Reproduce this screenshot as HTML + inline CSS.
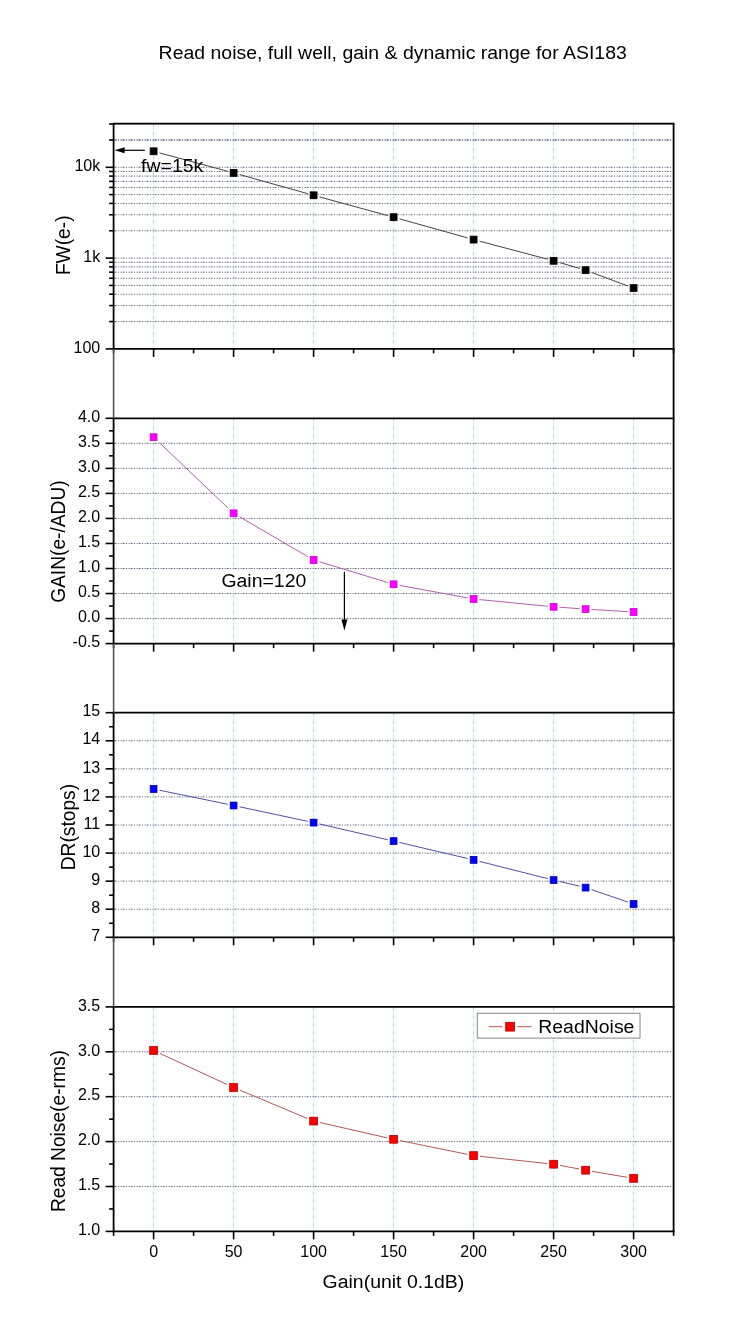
<!DOCTYPE html>
<html><head><meta charset="utf-8"><style>
html,body{margin:0;padding:0;background:#fff;width:750px;height:1334px;overflow:hidden;font-family:"Liberation Sans",sans-serif;}
svg{display:block;will-change:transform}
</style></head><body>
<svg width="750" height="1334" viewBox="0 0 750 1334">
<text transform="translate(158.60,58.70) scale(1.035,1)" font-size="18.8" font-family="Liberation Sans, sans-serif" text-anchor="start">Read noise, full well, gain &amp; dynamic range for ASI183</text>
<line x1="153.60" y1="124.7" x2="153.60" y2="347.9" stroke="#dcf3f6" stroke-width="1.2"/>
<line x1="153.60" y1="124.7" x2="153.60" y2="347.9" stroke="#92d2da" stroke-width="1" stroke-dasharray="1.5,6.5"/>
<line x1="233.60" y1="124.7" x2="233.60" y2="347.9" stroke="#dcf3f6" stroke-width="1.2"/>
<line x1="233.60" y1="124.7" x2="233.60" y2="347.9" stroke="#92d2da" stroke-width="1" stroke-dasharray="1.5,6.5"/>
<line x1="313.60" y1="124.7" x2="313.60" y2="347.9" stroke="#dcf3f6" stroke-width="1.2"/>
<line x1="313.60" y1="124.7" x2="313.60" y2="347.9" stroke="#92d2da" stroke-width="1" stroke-dasharray="1.5,6.5"/>
<line x1="393.60" y1="124.7" x2="393.60" y2="347.9" stroke="#dcf3f6" stroke-width="1.2"/>
<line x1="393.60" y1="124.7" x2="393.60" y2="347.9" stroke="#92d2da" stroke-width="1" stroke-dasharray="1.5,6.5"/>
<line x1="473.60" y1="124.7" x2="473.60" y2="347.9" stroke="#dcf3f6" stroke-width="1.2"/>
<line x1="473.60" y1="124.7" x2="473.60" y2="347.9" stroke="#92d2da" stroke-width="1" stroke-dasharray="1.5,6.5"/>
<line x1="553.60" y1="124.7" x2="553.60" y2="347.9" stroke="#dcf3f6" stroke-width="1.2"/>
<line x1="553.60" y1="124.7" x2="553.60" y2="347.9" stroke="#92d2da" stroke-width="1" stroke-dasharray="1.5,6.5"/>
<line x1="633.60" y1="124.7" x2="633.60" y2="347.9" stroke="#dcf3f6" stroke-width="1.2"/>
<line x1="633.60" y1="124.7" x2="633.60" y2="347.9" stroke="#92d2da" stroke-width="1" stroke-dasharray="1.5,6.5"/>
<line x1="153.60" y1="419.3" x2="153.60" y2="642.6" stroke="#dcf3f6" stroke-width="1.2"/>
<line x1="153.60" y1="419.3" x2="153.60" y2="642.6" stroke="#92d2da" stroke-width="1" stroke-dasharray="1.5,6.5"/>
<line x1="233.60" y1="419.3" x2="233.60" y2="642.6" stroke="#dcf3f6" stroke-width="1.2"/>
<line x1="233.60" y1="419.3" x2="233.60" y2="642.6" stroke="#92d2da" stroke-width="1" stroke-dasharray="1.5,6.5"/>
<line x1="313.60" y1="419.3" x2="313.60" y2="642.6" stroke="#dcf3f6" stroke-width="1.2"/>
<line x1="313.60" y1="419.3" x2="313.60" y2="642.6" stroke="#92d2da" stroke-width="1" stroke-dasharray="1.5,6.5"/>
<line x1="393.60" y1="419.3" x2="393.60" y2="642.6" stroke="#dcf3f6" stroke-width="1.2"/>
<line x1="393.60" y1="419.3" x2="393.60" y2="642.6" stroke="#92d2da" stroke-width="1" stroke-dasharray="1.5,6.5"/>
<line x1="473.60" y1="419.3" x2="473.60" y2="642.6" stroke="#dcf3f6" stroke-width="1.2"/>
<line x1="473.60" y1="419.3" x2="473.60" y2="642.6" stroke="#92d2da" stroke-width="1" stroke-dasharray="1.5,6.5"/>
<line x1="553.60" y1="419.3" x2="553.60" y2="642.6" stroke="#dcf3f6" stroke-width="1.2"/>
<line x1="553.60" y1="419.3" x2="553.60" y2="642.6" stroke="#92d2da" stroke-width="1" stroke-dasharray="1.5,6.5"/>
<line x1="633.60" y1="419.3" x2="633.60" y2="642.6" stroke="#dcf3f6" stroke-width="1.2"/>
<line x1="633.60" y1="419.3" x2="633.60" y2="642.6" stroke="#92d2da" stroke-width="1" stroke-dasharray="1.5,6.5"/>
<line x1="153.60" y1="713.7" x2="153.60" y2="936.3" stroke="#dcf3f6" stroke-width="1.2"/>
<line x1="153.60" y1="713.7" x2="153.60" y2="936.3" stroke="#92d2da" stroke-width="1" stroke-dasharray="1.5,6.5"/>
<line x1="233.60" y1="713.7" x2="233.60" y2="936.3" stroke="#dcf3f6" stroke-width="1.2"/>
<line x1="233.60" y1="713.7" x2="233.60" y2="936.3" stroke="#92d2da" stroke-width="1" stroke-dasharray="1.5,6.5"/>
<line x1="313.60" y1="713.7" x2="313.60" y2="936.3" stroke="#dcf3f6" stroke-width="1.2"/>
<line x1="313.60" y1="713.7" x2="313.60" y2="936.3" stroke="#92d2da" stroke-width="1" stroke-dasharray="1.5,6.5"/>
<line x1="393.60" y1="713.7" x2="393.60" y2="936.3" stroke="#dcf3f6" stroke-width="1.2"/>
<line x1="393.60" y1="713.7" x2="393.60" y2="936.3" stroke="#92d2da" stroke-width="1" stroke-dasharray="1.5,6.5"/>
<line x1="473.60" y1="713.7" x2="473.60" y2="936.3" stroke="#dcf3f6" stroke-width="1.2"/>
<line x1="473.60" y1="713.7" x2="473.60" y2="936.3" stroke="#92d2da" stroke-width="1" stroke-dasharray="1.5,6.5"/>
<line x1="553.60" y1="713.7" x2="553.60" y2="936.3" stroke="#dcf3f6" stroke-width="1.2"/>
<line x1="553.60" y1="713.7" x2="553.60" y2="936.3" stroke="#92d2da" stroke-width="1" stroke-dasharray="1.5,6.5"/>
<line x1="633.60" y1="713.7" x2="633.60" y2="936.3" stroke="#dcf3f6" stroke-width="1.2"/>
<line x1="633.60" y1="713.7" x2="633.60" y2="936.3" stroke="#92d2da" stroke-width="1" stroke-dasharray="1.5,6.5"/>
<line x1="153.60" y1="1007.9" x2="153.60" y2="1230.4" stroke="#dcf3f6" stroke-width="1.2"/>
<line x1="153.60" y1="1007.9" x2="153.60" y2="1230.4" stroke="#92d2da" stroke-width="1" stroke-dasharray="1.5,6.5"/>
<line x1="233.60" y1="1007.9" x2="233.60" y2="1230.4" stroke="#dcf3f6" stroke-width="1.2"/>
<line x1="233.60" y1="1007.9" x2="233.60" y2="1230.4" stroke="#92d2da" stroke-width="1" stroke-dasharray="1.5,6.5"/>
<line x1="313.60" y1="1007.9" x2="313.60" y2="1230.4" stroke="#dcf3f6" stroke-width="1.2"/>
<line x1="313.60" y1="1007.9" x2="313.60" y2="1230.4" stroke="#92d2da" stroke-width="1" stroke-dasharray="1.5,6.5"/>
<line x1="393.60" y1="1007.9" x2="393.60" y2="1230.4" stroke="#dcf3f6" stroke-width="1.2"/>
<line x1="393.60" y1="1007.9" x2="393.60" y2="1230.4" stroke="#92d2da" stroke-width="1" stroke-dasharray="1.5,6.5"/>
<line x1="473.60" y1="1007.9" x2="473.60" y2="1230.4" stroke="#dcf3f6" stroke-width="1.2"/>
<line x1="473.60" y1="1007.9" x2="473.60" y2="1230.4" stroke="#92d2da" stroke-width="1" stroke-dasharray="1.5,6.5"/>
<line x1="553.60" y1="1007.9" x2="553.60" y2="1230.4" stroke="#dcf3f6" stroke-width="1.2"/>
<line x1="553.60" y1="1007.9" x2="553.60" y2="1230.4" stroke="#92d2da" stroke-width="1" stroke-dasharray="1.5,6.5"/>
<line x1="633.60" y1="1007.9" x2="633.60" y2="1230.4" stroke="#dcf3f6" stroke-width="1.2"/>
<line x1="633.60" y1="1007.9" x2="633.60" y2="1230.4" stroke="#92d2da" stroke-width="1" stroke-dasharray="1.5,6.5"/>
<line x1="114.6" y1="321.57" x2="672.6" y2="321.57" stroke="#62627e" stroke-width="1" stroke-dasharray="2,1.5,1,1.5,1,1"/>
<line x1="114.6" y1="305.58" x2="672.6" y2="305.58" stroke="#62627e" stroke-width="1" stroke-dasharray="2,1.5,1,1.5,1,1"/>
<line x1="114.6" y1="294.23" x2="672.6" y2="294.23" stroke="#62627e" stroke-width="1" stroke-dasharray="2,1.5,1,1.5,1,1"/>
<line x1="114.6" y1="285.43" x2="672.6" y2="285.43" stroke="#62627e" stroke-width="1" stroke-dasharray="2,1.5,1,1.5,1,1"/>
<line x1="114.6" y1="278.24" x2="672.6" y2="278.24" stroke="#62627e" stroke-width="1" stroke-dasharray="2,1.5,1,1.5,1,1"/>
<line x1="114.6" y1="272.17" x2="672.6" y2="272.17" stroke="#62627e" stroke-width="1" stroke-dasharray="2,1.5,1,1.5,1,1"/>
<line x1="114.6" y1="266.90" x2="672.6" y2="266.90" stroke="#62627e" stroke-width="1" stroke-dasharray="2,1.5,1,1.5,1,1"/>
<line x1="114.6" y1="262.25" x2="672.6" y2="262.25" stroke="#62627e" stroke-width="1" stroke-dasharray="2,1.5,1,1.5,1,1"/>
<line x1="114.6" y1="258.10" x2="672.6" y2="258.10" stroke="#62627e" stroke-width="1" stroke-dasharray="2,1.5,1,1.5,1,1"/>
<line x1="114.6" y1="230.77" x2="672.6" y2="230.77" stroke="#62627e" stroke-width="1" stroke-dasharray="2,1.5,1,1.5,1,1"/>
<line x1="114.6" y1="214.78" x2="672.6" y2="214.78" stroke="#62627e" stroke-width="1" stroke-dasharray="2,1.5,1,1.5,1,1"/>
<line x1="114.6" y1="203.43" x2="672.6" y2="203.43" stroke="#62627e" stroke-width="1" stroke-dasharray="2,1.5,1,1.5,1,1"/>
<line x1="114.6" y1="194.63" x2="672.6" y2="194.63" stroke="#62627e" stroke-width="1" stroke-dasharray="2,1.5,1,1.5,1,1"/>
<line x1="114.6" y1="187.44" x2="672.6" y2="187.44" stroke="#62627e" stroke-width="1" stroke-dasharray="2,1.5,1,1.5,1,1"/>
<line x1="114.6" y1="181.37" x2="672.6" y2="181.37" stroke="#62627e" stroke-width="1" stroke-dasharray="2,1.5,1,1.5,1,1"/>
<line x1="114.6" y1="176.10" x2="672.6" y2="176.10" stroke="#62627e" stroke-width="1" stroke-dasharray="2,1.5,1,1.5,1,1"/>
<line x1="114.6" y1="171.45" x2="672.6" y2="171.45" stroke="#62627e" stroke-width="1" stroke-dasharray="2,1.5,1,1.5,1,1"/>
<line x1="114.6" y1="167.30" x2="672.6" y2="167.30" stroke="#62627e" stroke-width="1" stroke-dasharray="2,1.5,1,1.5,1,1"/>
<line x1="114.6" y1="139.97" x2="672.6" y2="139.97" stroke="#62627e" stroke-width="1" stroke-dasharray="2,1.5,1,1.5,1,1"/>
<line x1="114.6" y1="123.98" x2="672.6" y2="123.98" stroke="#62627e" stroke-width="1" stroke-dasharray="2,1.5,1,1.5,1,1"/>
<line x1="114.6" y1="139.97" x2="672.6" y2="139.97" stroke="#62627e" stroke-width="1" stroke-dasharray="2,1.5,1,1.5,1,1"/>
<line x1="114.6" y1="618.57" x2="672.6" y2="618.57" stroke="#62627e" stroke-width="1" stroke-dasharray="2,1.5,1,1.5,1,1"/>
<line x1="114.6" y1="593.53" x2="672.6" y2="593.53" stroke="#62627e" stroke-width="1" stroke-dasharray="2,1.5,1,1.5,1,1"/>
<line x1="114.6" y1="568.50" x2="672.6" y2="568.50" stroke="#62627e" stroke-width="1" stroke-dasharray="2,1.5,1,1.5,1,1"/>
<line x1="114.6" y1="543.47" x2="672.6" y2="543.47" stroke="#62627e" stroke-width="1" stroke-dasharray="2,1.5,1,1.5,1,1"/>
<line x1="114.6" y1="518.43" x2="672.6" y2="518.43" stroke="#62627e" stroke-width="1" stroke-dasharray="2,1.5,1,1.5,1,1"/>
<line x1="114.6" y1="493.40" x2="672.6" y2="493.40" stroke="#62627e" stroke-width="1" stroke-dasharray="2,1.5,1,1.5,1,1"/>
<line x1="114.6" y1="468.37" x2="672.6" y2="468.37" stroke="#62627e" stroke-width="1" stroke-dasharray="2,1.5,1,1.5,1,1"/>
<line x1="114.6" y1="443.33" x2="672.6" y2="443.33" stroke="#62627e" stroke-width="1" stroke-dasharray="2,1.5,1,1.5,1,1"/>
<line x1="114.6" y1="909.22" x2="672.6" y2="909.22" stroke="#62627e" stroke-width="1" stroke-dasharray="2,1.5,1,1.5,1,1"/>
<line x1="114.6" y1="881.15" x2="672.6" y2="881.15" stroke="#62627e" stroke-width="1" stroke-dasharray="2,1.5,1,1.5,1,1"/>
<line x1="114.6" y1="853.08" x2="672.6" y2="853.08" stroke="#62627e" stroke-width="1" stroke-dasharray="2,1.5,1,1.5,1,1"/>
<line x1="114.6" y1="825.00" x2="672.6" y2="825.00" stroke="#62627e" stroke-width="1" stroke-dasharray="2,1.5,1,1.5,1,1"/>
<line x1="114.6" y1="796.92" x2="672.6" y2="796.92" stroke="#62627e" stroke-width="1" stroke-dasharray="2,1.5,1,1.5,1,1"/>
<line x1="114.6" y1="768.85" x2="672.6" y2="768.85" stroke="#62627e" stroke-width="1" stroke-dasharray="2,1.5,1,1.5,1,1"/>
<line x1="114.6" y1="740.78" x2="672.6" y2="740.78" stroke="#62627e" stroke-width="1" stroke-dasharray="2,1.5,1,1.5,1,1"/>
<line x1="114.6" y1="1186.50" x2="672.6" y2="1186.50" stroke="#62627e" stroke-width="1" stroke-dasharray="2,1.5,1,1.5,1,1"/>
<line x1="114.6" y1="1141.60" x2="672.6" y2="1141.60" stroke="#62627e" stroke-width="1" stroke-dasharray="2,1.5,1,1.5,1,1"/>
<line x1="114.6" y1="1096.70" x2="672.6" y2="1096.70" stroke="#62627e" stroke-width="1" stroke-dasharray="2,1.5,1,1.5,1,1"/>
<line x1="114.6" y1="1051.80" x2="672.6" y2="1051.80" stroke="#62627e" stroke-width="1" stroke-dasharray="2,1.5,1,1.5,1,1"/>
<line x1="105.60" y1="348.90" x2="113.6" y2="348.90" stroke="#000" stroke-width="1.6"/>
<line x1="105.60" y1="258.10" x2="113.6" y2="258.10" stroke="#000" stroke-width="1.6"/>
<line x1="105.60" y1="167.30" x2="113.6" y2="167.30" stroke="#000" stroke-width="1.6"/>
<line x1="109.10" y1="321.57" x2="113.6" y2="321.57" stroke="#000" stroke-width="1.6"/>
<line x1="109.10" y1="305.58" x2="113.6" y2="305.58" stroke="#000" stroke-width="1.6"/>
<line x1="109.10" y1="294.23" x2="113.6" y2="294.23" stroke="#000" stroke-width="1.6"/>
<line x1="109.10" y1="285.43" x2="113.6" y2="285.43" stroke="#000" stroke-width="1.6"/>
<line x1="109.10" y1="278.24" x2="113.6" y2="278.24" stroke="#000" stroke-width="1.6"/>
<line x1="109.10" y1="272.17" x2="113.6" y2="272.17" stroke="#000" stroke-width="1.6"/>
<line x1="109.10" y1="266.90" x2="113.6" y2="266.90" stroke="#000" stroke-width="1.6"/>
<line x1="109.10" y1="262.25" x2="113.6" y2="262.25" stroke="#000" stroke-width="1.6"/>
<line x1="109.10" y1="230.77" x2="113.6" y2="230.77" stroke="#000" stroke-width="1.6"/>
<line x1="109.10" y1="214.78" x2="113.6" y2="214.78" stroke="#000" stroke-width="1.6"/>
<line x1="109.10" y1="203.43" x2="113.6" y2="203.43" stroke="#000" stroke-width="1.6"/>
<line x1="109.10" y1="194.63" x2="113.6" y2="194.63" stroke="#000" stroke-width="1.6"/>
<line x1="109.10" y1="187.44" x2="113.6" y2="187.44" stroke="#000" stroke-width="1.6"/>
<line x1="109.10" y1="181.37" x2="113.6" y2="181.37" stroke="#000" stroke-width="1.6"/>
<line x1="109.10" y1="176.10" x2="113.6" y2="176.10" stroke="#000" stroke-width="1.6"/>
<line x1="109.10" y1="171.45" x2="113.6" y2="171.45" stroke="#000" stroke-width="1.6"/>
<line x1="109.10" y1="139.97" x2="113.6" y2="139.97" stroke="#000" stroke-width="1.6"/>
<line x1="109.10" y1="123.98" x2="113.6" y2="123.98" stroke="#000" stroke-width="1.6"/>
<line x1="105.60" y1="643.60" x2="113.6" y2="643.60" stroke="#000" stroke-width="1.6"/>
<line x1="109.10" y1="631.08" x2="113.6" y2="631.08" stroke="#000" stroke-width="1.6"/>
<line x1="105.60" y1="618.57" x2="113.6" y2="618.57" stroke="#000" stroke-width="1.6"/>
<line x1="109.10" y1="606.05" x2="113.6" y2="606.05" stroke="#000" stroke-width="1.6"/>
<line x1="105.60" y1="593.53" x2="113.6" y2="593.53" stroke="#000" stroke-width="1.6"/>
<line x1="109.10" y1="581.02" x2="113.6" y2="581.02" stroke="#000" stroke-width="1.6"/>
<line x1="105.60" y1="568.50" x2="113.6" y2="568.50" stroke="#000" stroke-width="1.6"/>
<line x1="109.10" y1="555.98" x2="113.6" y2="555.98" stroke="#000" stroke-width="1.6"/>
<line x1="105.60" y1="543.47" x2="113.6" y2="543.47" stroke="#000" stroke-width="1.6"/>
<line x1="109.10" y1="530.95" x2="113.6" y2="530.95" stroke="#000" stroke-width="1.6"/>
<line x1="105.60" y1="518.43" x2="113.6" y2="518.43" stroke="#000" stroke-width="1.6"/>
<line x1="109.10" y1="505.92" x2="113.6" y2="505.92" stroke="#000" stroke-width="1.6"/>
<line x1="105.60" y1="493.40" x2="113.6" y2="493.40" stroke="#000" stroke-width="1.6"/>
<line x1="109.10" y1="480.88" x2="113.6" y2="480.88" stroke="#000" stroke-width="1.6"/>
<line x1="105.60" y1="468.37" x2="113.6" y2="468.37" stroke="#000" stroke-width="1.6"/>
<line x1="109.10" y1="455.85" x2="113.6" y2="455.85" stroke="#000" stroke-width="1.6"/>
<line x1="105.60" y1="443.33" x2="113.6" y2="443.33" stroke="#000" stroke-width="1.6"/>
<line x1="109.10" y1="430.82" x2="113.6" y2="430.82" stroke="#000" stroke-width="1.6"/>
<line x1="105.60" y1="418.30" x2="113.6" y2="418.30" stroke="#000" stroke-width="1.6"/>
<line x1="105.60" y1="937.30" x2="113.6" y2="937.30" stroke="#000" stroke-width="1.6"/>
<line x1="109.10" y1="923.26" x2="113.6" y2="923.26" stroke="#000" stroke-width="1.6"/>
<line x1="105.60" y1="909.22" x2="113.6" y2="909.22" stroke="#000" stroke-width="1.6"/>
<line x1="109.10" y1="895.19" x2="113.6" y2="895.19" stroke="#000" stroke-width="1.6"/>
<line x1="105.60" y1="881.15" x2="113.6" y2="881.15" stroke="#000" stroke-width="1.6"/>
<line x1="109.10" y1="867.11" x2="113.6" y2="867.11" stroke="#000" stroke-width="1.6"/>
<line x1="105.60" y1="853.08" x2="113.6" y2="853.08" stroke="#000" stroke-width="1.6"/>
<line x1="109.10" y1="839.04" x2="113.6" y2="839.04" stroke="#000" stroke-width="1.6"/>
<line x1="105.60" y1="825.00" x2="113.6" y2="825.00" stroke="#000" stroke-width="1.6"/>
<line x1="109.10" y1="810.96" x2="113.6" y2="810.96" stroke="#000" stroke-width="1.6"/>
<line x1="105.60" y1="796.92" x2="113.6" y2="796.92" stroke="#000" stroke-width="1.6"/>
<line x1="109.10" y1="782.89" x2="113.6" y2="782.89" stroke="#000" stroke-width="1.6"/>
<line x1="105.60" y1="768.85" x2="113.6" y2="768.85" stroke="#000" stroke-width="1.6"/>
<line x1="109.10" y1="754.81" x2="113.6" y2="754.81" stroke="#000" stroke-width="1.6"/>
<line x1="105.60" y1="740.78" x2="113.6" y2="740.78" stroke="#000" stroke-width="1.6"/>
<line x1="109.10" y1="726.74" x2="113.6" y2="726.74" stroke="#000" stroke-width="1.6"/>
<line x1="105.60" y1="712.70" x2="113.6" y2="712.70" stroke="#000" stroke-width="1.6"/>
<line x1="105.60" y1="1231.40" x2="113.6" y2="1231.40" stroke="#000" stroke-width="1.6"/>
<line x1="109.10" y1="1208.95" x2="113.6" y2="1208.95" stroke="#000" stroke-width="1.6"/>
<line x1="105.60" y1="1186.50" x2="113.6" y2="1186.50" stroke="#000" stroke-width="1.6"/>
<line x1="109.10" y1="1164.05" x2="113.6" y2="1164.05" stroke="#000" stroke-width="1.6"/>
<line x1="105.60" y1="1141.60" x2="113.6" y2="1141.60" stroke="#000" stroke-width="1.6"/>
<line x1="109.10" y1="1119.15" x2="113.6" y2="1119.15" stroke="#000" stroke-width="1.6"/>
<line x1="105.60" y1="1096.70" x2="113.6" y2="1096.70" stroke="#000" stroke-width="1.6"/>
<line x1="109.10" y1="1074.25" x2="113.6" y2="1074.25" stroke="#000" stroke-width="1.6"/>
<line x1="105.60" y1="1051.80" x2="113.6" y2="1051.80" stroke="#000" stroke-width="1.6"/>
<line x1="109.10" y1="1029.35" x2="113.6" y2="1029.35" stroke="#000" stroke-width="1.6"/>
<line x1="105.60" y1="1006.90" x2="113.6" y2="1006.90" stroke="#000" stroke-width="1.6"/>
<line x1="113.60" y1="348.9" x2="113.60" y2="353.40" stroke="#000" stroke-width="1.6"/>
<line x1="153.60" y1="348.9" x2="153.60" y2="356.90" stroke="#000" stroke-width="1.6"/>
<line x1="193.60" y1="348.9" x2="193.60" y2="353.40" stroke="#000" stroke-width="1.6"/>
<line x1="233.60" y1="348.9" x2="233.60" y2="356.90" stroke="#000" stroke-width="1.6"/>
<line x1="273.60" y1="348.9" x2="273.60" y2="353.40" stroke="#000" stroke-width="1.6"/>
<line x1="313.60" y1="348.9" x2="313.60" y2="356.90" stroke="#000" stroke-width="1.6"/>
<line x1="353.60" y1="348.9" x2="353.60" y2="353.40" stroke="#000" stroke-width="1.6"/>
<line x1="393.60" y1="348.9" x2="393.60" y2="356.90" stroke="#000" stroke-width="1.6"/>
<line x1="433.60" y1="348.9" x2="433.60" y2="353.40" stroke="#000" stroke-width="1.6"/>
<line x1="473.60" y1="348.9" x2="473.60" y2="356.90" stroke="#000" stroke-width="1.6"/>
<line x1="513.60" y1="348.9" x2="513.60" y2="353.40" stroke="#000" stroke-width="1.6"/>
<line x1="553.60" y1="348.9" x2="553.60" y2="356.90" stroke="#000" stroke-width="1.6"/>
<line x1="593.60" y1="348.9" x2="593.60" y2="353.40" stroke="#000" stroke-width="1.6"/>
<line x1="633.60" y1="348.9" x2="633.60" y2="356.90" stroke="#000" stroke-width="1.6"/>
<line x1="673.60" y1="348.9" x2="673.60" y2="353.40" stroke="#000" stroke-width="1.6"/>
<line x1="113.60" y1="643.6" x2="113.60" y2="648.10" stroke="#000" stroke-width="1.6"/>
<line x1="153.60" y1="643.6" x2="153.60" y2="651.60" stroke="#000" stroke-width="1.6"/>
<line x1="193.60" y1="643.6" x2="193.60" y2="648.10" stroke="#000" stroke-width="1.6"/>
<line x1="233.60" y1="643.6" x2="233.60" y2="651.60" stroke="#000" stroke-width="1.6"/>
<line x1="273.60" y1="643.6" x2="273.60" y2="648.10" stroke="#000" stroke-width="1.6"/>
<line x1="313.60" y1="643.6" x2="313.60" y2="651.60" stroke="#000" stroke-width="1.6"/>
<line x1="353.60" y1="643.6" x2="353.60" y2="648.10" stroke="#000" stroke-width="1.6"/>
<line x1="393.60" y1="643.6" x2="393.60" y2="651.60" stroke="#000" stroke-width="1.6"/>
<line x1="433.60" y1="643.6" x2="433.60" y2="648.10" stroke="#000" stroke-width="1.6"/>
<line x1="473.60" y1="643.6" x2="473.60" y2="651.60" stroke="#000" stroke-width="1.6"/>
<line x1="513.60" y1="643.6" x2="513.60" y2="648.10" stroke="#000" stroke-width="1.6"/>
<line x1="553.60" y1="643.6" x2="553.60" y2="651.60" stroke="#000" stroke-width="1.6"/>
<line x1="593.60" y1="643.6" x2="593.60" y2="648.10" stroke="#000" stroke-width="1.6"/>
<line x1="633.60" y1="643.6" x2="633.60" y2="651.60" stroke="#000" stroke-width="1.6"/>
<line x1="673.60" y1="643.6" x2="673.60" y2="648.10" stroke="#000" stroke-width="1.6"/>
<line x1="113.60" y1="937.3" x2="113.60" y2="941.80" stroke="#000" stroke-width="1.6"/>
<line x1="153.60" y1="937.3" x2="153.60" y2="945.30" stroke="#000" stroke-width="1.6"/>
<line x1="193.60" y1="937.3" x2="193.60" y2="941.80" stroke="#000" stroke-width="1.6"/>
<line x1="233.60" y1="937.3" x2="233.60" y2="945.30" stroke="#000" stroke-width="1.6"/>
<line x1="273.60" y1="937.3" x2="273.60" y2="941.80" stroke="#000" stroke-width="1.6"/>
<line x1="313.60" y1="937.3" x2="313.60" y2="945.30" stroke="#000" stroke-width="1.6"/>
<line x1="353.60" y1="937.3" x2="353.60" y2="941.80" stroke="#000" stroke-width="1.6"/>
<line x1="393.60" y1="937.3" x2="393.60" y2="945.30" stroke="#000" stroke-width="1.6"/>
<line x1="433.60" y1="937.3" x2="433.60" y2="941.80" stroke="#000" stroke-width="1.6"/>
<line x1="473.60" y1="937.3" x2="473.60" y2="945.30" stroke="#000" stroke-width="1.6"/>
<line x1="513.60" y1="937.3" x2="513.60" y2="941.80" stroke="#000" stroke-width="1.6"/>
<line x1="553.60" y1="937.3" x2="553.60" y2="945.30" stroke="#000" stroke-width="1.6"/>
<line x1="593.60" y1="937.3" x2="593.60" y2="941.80" stroke="#000" stroke-width="1.6"/>
<line x1="633.60" y1="937.3" x2="633.60" y2="945.30" stroke="#000" stroke-width="1.6"/>
<line x1="673.60" y1="937.3" x2="673.60" y2="941.80" stroke="#000" stroke-width="1.6"/>
<line x1="113.60" y1="1231.4" x2="113.60" y2="1235.90" stroke="#000" stroke-width="1.6"/>
<line x1="153.60" y1="1231.4" x2="153.60" y2="1239.40" stroke="#000" stroke-width="1.6"/>
<line x1="193.60" y1="1231.4" x2="193.60" y2="1235.90" stroke="#000" stroke-width="1.6"/>
<line x1="233.60" y1="1231.4" x2="233.60" y2="1239.40" stroke="#000" stroke-width="1.6"/>
<line x1="273.60" y1="1231.4" x2="273.60" y2="1235.90" stroke="#000" stroke-width="1.6"/>
<line x1="313.60" y1="1231.4" x2="313.60" y2="1239.40" stroke="#000" stroke-width="1.6"/>
<line x1="353.60" y1="1231.4" x2="353.60" y2="1235.90" stroke="#000" stroke-width="1.6"/>
<line x1="393.60" y1="1231.4" x2="393.60" y2="1239.40" stroke="#000" stroke-width="1.6"/>
<line x1="433.60" y1="1231.4" x2="433.60" y2="1235.90" stroke="#000" stroke-width="1.6"/>
<line x1="473.60" y1="1231.4" x2="473.60" y2="1239.40" stroke="#000" stroke-width="1.6"/>
<line x1="513.60" y1="1231.4" x2="513.60" y2="1235.90" stroke="#000" stroke-width="1.6"/>
<line x1="553.60" y1="1231.4" x2="553.60" y2="1239.40" stroke="#000" stroke-width="1.6"/>
<line x1="593.60" y1="1231.4" x2="593.60" y2="1235.90" stroke="#000" stroke-width="1.6"/>
<line x1="633.60" y1="1231.4" x2="633.60" y2="1239.40" stroke="#000" stroke-width="1.6"/>
<line x1="673.60" y1="1231.4" x2="673.60" y2="1235.90" stroke="#000" stroke-width="1.6"/>
<text transform="translate(100.20,352.60) scale(1.0,1)" font-size="16" font-family="Liberation Sans, sans-serif" text-anchor="end">100</text>
<text transform="translate(100.20,261.80) scale(1.0,1)" font-size="16" font-family="Liberation Sans, sans-serif" text-anchor="end">1k</text>
<text transform="translate(100.20,171.00) scale(1.0,1)" font-size="16" font-family="Liberation Sans, sans-serif" text-anchor="end">10k</text>
<text transform="translate(100.20,647.30) scale(1.0,1)" font-size="16" font-family="Liberation Sans, sans-serif" text-anchor="end">-0.5</text>
<text transform="translate(100.20,622.27) scale(1.0,1)" font-size="16" font-family="Liberation Sans, sans-serif" text-anchor="end">0.0</text>
<text transform="translate(100.20,597.23) scale(1.0,1)" font-size="16" font-family="Liberation Sans, sans-serif" text-anchor="end">0.5</text>
<text transform="translate(100.20,572.20) scale(1.0,1)" font-size="16" font-family="Liberation Sans, sans-serif" text-anchor="end">1.0</text>
<text transform="translate(100.20,547.17) scale(1.0,1)" font-size="16" font-family="Liberation Sans, sans-serif" text-anchor="end">1.5</text>
<text transform="translate(100.20,522.13) scale(1.0,1)" font-size="16" font-family="Liberation Sans, sans-serif" text-anchor="end">2.0</text>
<text transform="translate(100.20,497.10) scale(1.0,1)" font-size="16" font-family="Liberation Sans, sans-serif" text-anchor="end">2.5</text>
<text transform="translate(100.20,472.07) scale(1.0,1)" font-size="16" font-family="Liberation Sans, sans-serif" text-anchor="end">3.0</text>
<text transform="translate(100.20,447.03) scale(1.0,1)" font-size="16" font-family="Liberation Sans, sans-serif" text-anchor="end">3.5</text>
<text transform="translate(100.20,422.00) scale(1.0,1)" font-size="16" font-family="Liberation Sans, sans-serif" text-anchor="end">4.0</text>
<text transform="translate(100.20,941.00) scale(1.0,1)" font-size="16" font-family="Liberation Sans, sans-serif" text-anchor="end">7</text>
<text transform="translate(100.20,912.92) scale(1.0,1)" font-size="16" font-family="Liberation Sans, sans-serif" text-anchor="end">8</text>
<text transform="translate(100.20,884.85) scale(1.0,1)" font-size="16" font-family="Liberation Sans, sans-serif" text-anchor="end">9</text>
<text transform="translate(100.20,856.78) scale(1.0,1)" font-size="16" font-family="Liberation Sans, sans-serif" text-anchor="end">10</text>
<text transform="translate(100.20,828.70) scale(1.0,1)" font-size="16" font-family="Liberation Sans, sans-serif" text-anchor="end">11</text>
<text transform="translate(100.20,800.62) scale(1.0,1)" font-size="16" font-family="Liberation Sans, sans-serif" text-anchor="end">12</text>
<text transform="translate(100.20,772.55) scale(1.0,1)" font-size="16" font-family="Liberation Sans, sans-serif" text-anchor="end">13</text>
<text transform="translate(100.20,744.48) scale(1.0,1)" font-size="16" font-family="Liberation Sans, sans-serif" text-anchor="end">14</text>
<text transform="translate(100.20,716.40) scale(1.0,1)" font-size="16" font-family="Liberation Sans, sans-serif" text-anchor="end">15</text>
<text transform="translate(100.20,1235.10) scale(1.0,1)" font-size="16" font-family="Liberation Sans, sans-serif" text-anchor="end">1.0</text>
<text transform="translate(100.20,1190.20) scale(1.0,1)" font-size="16" font-family="Liberation Sans, sans-serif" text-anchor="end">1.5</text>
<text transform="translate(100.20,1145.30) scale(1.0,1)" font-size="16" font-family="Liberation Sans, sans-serif" text-anchor="end">2.0</text>
<text transform="translate(100.20,1100.40) scale(1.0,1)" font-size="16" font-family="Liberation Sans, sans-serif" text-anchor="end">2.5</text>
<text transform="translate(100.20,1055.50) scale(1.0,1)" font-size="16" font-family="Liberation Sans, sans-serif" text-anchor="end">3.0</text>
<text transform="translate(100.20,1010.60) scale(1.0,1)" font-size="16" font-family="Liberation Sans, sans-serif" text-anchor="end">3.5</text>
<text transform="translate(153.60,1256.70) scale(1.0,1)" font-size="16" font-family="Liberation Sans, sans-serif" text-anchor="middle">0</text>
<text transform="translate(233.60,1256.70) scale(1.0,1)" font-size="16" font-family="Liberation Sans, sans-serif" text-anchor="middle">50</text>
<text transform="translate(313.60,1256.70) scale(1.0,1)" font-size="16" font-family="Liberation Sans, sans-serif" text-anchor="middle">100</text>
<text transform="translate(393.60,1256.70) scale(1.0,1)" font-size="16" font-family="Liberation Sans, sans-serif" text-anchor="middle">150</text>
<text transform="translate(473.60,1256.70) scale(1.0,1)" font-size="16" font-family="Liberation Sans, sans-serif" text-anchor="middle">200</text>
<text transform="translate(553.60,1256.70) scale(1.0,1)" font-size="16" font-family="Liberation Sans, sans-serif" text-anchor="middle">250</text>
<text transform="translate(633.60,1256.70) scale(1.0,1)" font-size="16" font-family="Liberation Sans, sans-serif" text-anchor="middle">300</text>
<text transform="translate(322.60,1288.10) scale(1.035,1)" font-size="18.8" font-family="Liberation Sans, sans-serif" text-anchor="start">Gain(unit 0.1dB)</text>
<text transform="translate(70,245.3) rotate(-90) scale(1,1.035)" x="0" y="0" font-size="19.2" font-family="Liberation Sans, sans-serif" text-anchor="middle">FW(e-)</text>
<text transform="translate(64.7,541.6) rotate(-90) scale(1,1.035)" x="0" y="0" font-size="19.2" font-family="Liberation Sans, sans-serif" text-anchor="middle">GAIN(e-/ADU)</text>
<text transform="translate(75.1,827.1) rotate(-90) scale(1,1.035)" x="0" y="0" font-size="19.2" font-family="Liberation Sans, sans-serif" text-anchor="middle">DR(stops)</text>
<text transform="translate(64.7,1131.1) rotate(-90) scale(1,1.035)" x="0" y="0" font-size="19.2" font-family="Liberation Sans, sans-serif" text-anchor="middle">Read Noise(e-rms)</text>
<g stroke="#000" stroke-width="1.8" fill="none">
<line x1="112.69999999999999" y1="123.7" x2="674.5" y2="123.7"/>
<line x1="112.69999999999999" y1="348.9" x2="674.5" y2="348.9"/>
<line x1="112.69999999999999" y1="418.3" x2="674.5" y2="418.3"/>
<line x1="112.69999999999999" y1="643.6" x2="674.5" y2="643.6"/>
<line x1="112.69999999999999" y1="712.7" x2="674.5" y2="712.7"/>
<line x1="112.69999999999999" y1="937.3" x2="674.5" y2="937.3"/>
<line x1="112.69999999999999" y1="1006.9" x2="674.5" y2="1006.9"/>
<line x1="112.69999999999999" y1="1231.4" x2="674.5" y2="1231.4"/>
<line x1="673.6" y1="123.7" x2="673.6" y2="1231.4"/>
<line x1="113.6" y1="123.7" x2="113.6" y2="348.9"/>
<line x1="113.6" y1="418.3" x2="113.6" y2="643.6"/>
<line x1="113.6" y1="712.7" x2="113.6" y2="937.3"/>
<line x1="113.6" y1="1006.9" x2="113.6" y2="1231.4"/>
</g>
<line x1="113.6" y1="348.9" x2="113.6" y2="418.3" stroke="#555" stroke-width="1.6"/>
<line x1="113.6" y1="643.6" x2="113.6" y2="712.7" stroke="#555" stroke-width="1.6"/>
<line x1="113.6" y1="937.3" x2="113.6" y2="1006.9" stroke="#555" stroke-width="1.6"/>
<mask id="m0" maskUnits="userSpaceOnUse" x="0" y="0" width="750" height="1334"><rect x="0" y="0" width="750" height="1334" fill="#fff"/><rect x="147.65" y="145.35" width="11.90" height="11.90" fill="#000"/><rect x="227.65" y="166.95" width="11.90" height="11.90" fill="#000"/><rect x="307.65" y="189.35" width="11.90" height="11.90" fill="#000"/><rect x="387.65" y="211.25" width="11.90" height="11.90" fill="#000"/><rect x="467.65" y="233.65" width="11.90" height="11.90" fill="#000"/><rect x="547.65" y="254.85" width="11.90" height="11.90" fill="#000"/><rect x="579.65" y="264.25" width="11.90" height="11.90" fill="#000"/><rect x="627.65" y="282.15" width="11.90" height="11.90" fill="#000"/></mask>
<path d="M153.60,151.30 L233.60,172.90 L313.60,195.30 L393.60,217.20 L473.60,239.60 L553.60,260.80 L585.60,270.20 L633.60,288.10" fill="none" stroke="#444" stroke-width="1" mask="url(#m0)"/>
<rect x="150.15" y="147.85" width="6.9" height="6.9" fill="#000" stroke="#000" stroke-width="0.8"/>
<rect x="230.15" y="169.45" width="6.9" height="6.9" fill="#000" stroke="#000" stroke-width="0.8"/>
<rect x="310.15" y="191.85" width="6.9" height="6.9" fill="#000" stroke="#000" stroke-width="0.8"/>
<rect x="390.15" y="213.75" width="6.9" height="6.9" fill="#000" stroke="#000" stroke-width="0.8"/>
<rect x="470.15" y="236.15" width="6.9" height="6.9" fill="#000" stroke="#000" stroke-width="0.8"/>
<rect x="550.15" y="257.35" width="6.9" height="6.9" fill="#000" stroke="#000" stroke-width="0.8"/>
<rect x="582.15" y="266.75" width="6.9" height="6.9" fill="#000" stroke="#000" stroke-width="0.8"/>
<rect x="630.15" y="284.65" width="6.9" height="6.9" fill="#000" stroke="#000" stroke-width="0.8"/>
<mask id="m1" maskUnits="userSpaceOnUse" x="0" y="0" width="750" height="1334"><rect x="0" y="0" width="750" height="1334" fill="#fff"/><rect x="147.70" y="431.30" width="11.80" height="11.80" fill="#000"/><rect x="227.70" y="507.40" width="11.80" height="11.80" fill="#000"/><rect x="307.70" y="554.10" width="11.80" height="11.80" fill="#000"/><rect x="387.70" y="578.40" width="11.80" height="11.80" fill="#000"/><rect x="467.70" y="593.10" width="11.80" height="11.80" fill="#000"/><rect x="547.70" y="600.90" width="11.80" height="11.80" fill="#000"/><rect x="579.70" y="603.20" width="11.80" height="11.80" fill="#000"/><rect x="627.70" y="606.10" width="11.80" height="11.80" fill="#000"/></mask>
<path d="M153.60,437.20 L233.60,513.30 L313.60,560.00 L393.60,584.30 L473.60,599.00 L553.60,606.80 L585.60,609.10 L633.60,612.00" fill="none" stroke="#b060b0" stroke-width="1" mask="url(#m1)"/>
<rect x="150.20" y="433.80" width="6.8" height="6.8" fill="#ff00ff" stroke="#cc00cc" stroke-width="0.8"/>
<rect x="230.20" y="509.90" width="6.8" height="6.8" fill="#ff00ff" stroke="#cc00cc" stroke-width="0.8"/>
<rect x="310.20" y="556.60" width="6.8" height="6.8" fill="#ff00ff" stroke="#cc00cc" stroke-width="0.8"/>
<rect x="390.20" y="580.90" width="6.8" height="6.8" fill="#ff00ff" stroke="#cc00cc" stroke-width="0.8"/>
<rect x="470.20" y="595.60" width="6.8" height="6.8" fill="#ff00ff" stroke="#cc00cc" stroke-width="0.8"/>
<rect x="550.20" y="603.40" width="6.8" height="6.8" fill="#ff00ff" stroke="#cc00cc" stroke-width="0.8"/>
<rect x="582.20" y="605.70" width="6.8" height="6.8" fill="#ff00ff" stroke="#cc00cc" stroke-width="0.8"/>
<rect x="630.20" y="608.60" width="6.8" height="6.8" fill="#ff00ff" stroke="#cc00cc" stroke-width="0.8"/>
<mask id="m2" maskUnits="userSpaceOnUse" x="0" y="0" width="750" height="1334"><rect x="0" y="0" width="750" height="1334" fill="#fff"/><rect x="147.70" y="783.10" width="11.80" height="11.80" fill="#000"/><rect x="227.70" y="799.60" width="11.80" height="11.80" fill="#000"/><rect x="307.70" y="816.70" width="11.80" height="11.80" fill="#000"/><rect x="387.70" y="835.20" width="11.80" height="11.80" fill="#000"/><rect x="467.70" y="854.00" width="11.80" height="11.80" fill="#000"/><rect x="547.70" y="874.20" width="11.80" height="11.80" fill="#000"/><rect x="579.70" y="881.70" width="11.80" height="11.80" fill="#000"/><rect x="627.70" y="898.10" width="11.80" height="11.80" fill="#000"/></mask>
<path d="M153.60,789.00 L233.60,805.50 L313.60,822.60 L393.60,841.10 L473.60,859.90 L553.60,880.10 L585.60,887.60 L633.60,904.00" fill="none" stroke="#5050a0" stroke-width="1" mask="url(#m2)"/>
<rect x="150.20" y="785.60" width="6.8" height="6.8" fill="#0000ff" stroke="#0000aa" stroke-width="0.8"/>
<rect x="230.20" y="802.10" width="6.8" height="6.8" fill="#0000ff" stroke="#0000aa" stroke-width="0.8"/>
<rect x="310.20" y="819.20" width="6.8" height="6.8" fill="#0000ff" stroke="#0000aa" stroke-width="0.8"/>
<rect x="390.20" y="837.70" width="6.8" height="6.8" fill="#0000ff" stroke="#0000aa" stroke-width="0.8"/>
<rect x="470.20" y="856.50" width="6.8" height="6.8" fill="#0000ff" stroke="#0000aa" stroke-width="0.8"/>
<rect x="550.20" y="876.70" width="6.8" height="6.8" fill="#0000ff" stroke="#0000aa" stroke-width="0.8"/>
<rect x="582.20" y="884.20" width="6.8" height="6.8" fill="#0000ff" stroke="#0000aa" stroke-width="0.8"/>
<rect x="630.20" y="900.60" width="6.8" height="6.8" fill="#0000ff" stroke="#0000aa" stroke-width="0.8"/>
<mask id="m3" maskUnits="userSpaceOnUse" x="0" y="0" width="750" height="1334"><rect x="0" y="0" width="750" height="1334" fill="#fff"/><rect x="147.20" y="1044.10" width="12.80" height="12.80" fill="#000"/><rect x="227.20" y="1081.10" width="12.80" height="12.80" fill="#000"/><rect x="307.20" y="1114.70" width="12.80" height="12.80" fill="#000"/><rect x="387.20" y="1132.90" width="12.80" height="12.80" fill="#000"/><rect x="467.20" y="1149.20" width="12.80" height="12.80" fill="#000"/><rect x="547.20" y="1157.80" width="12.80" height="12.80" fill="#000"/><rect x="579.20" y="1163.80" width="12.80" height="12.80" fill="#000"/><rect x="627.20" y="1172.00" width="12.80" height="12.80" fill="#000"/></mask>
<path d="M153.60,1050.50 L233.60,1087.50 L313.60,1121.10 L393.60,1139.30 L473.60,1155.60 L553.60,1164.20 L585.60,1170.20 L633.60,1178.40" fill="none" stroke="#b05858" stroke-width="1" mask="url(#m3)"/>
<rect x="149.70" y="1046.60" width="7.8" height="7.8" fill="#ff0000" stroke="#b00000" stroke-width="0.8"/>
<rect x="229.70" y="1083.60" width="7.8" height="7.8" fill="#ff0000" stroke="#b00000" stroke-width="0.8"/>
<rect x="309.70" y="1117.20" width="7.8" height="7.8" fill="#ff0000" stroke="#b00000" stroke-width="0.8"/>
<rect x="389.70" y="1135.40" width="7.8" height="7.8" fill="#ff0000" stroke="#b00000" stroke-width="0.8"/>
<rect x="469.70" y="1151.70" width="7.8" height="7.8" fill="#ff0000" stroke="#b00000" stroke-width="0.8"/>
<rect x="549.70" y="1160.30" width="7.8" height="7.8" fill="#ff0000" stroke="#b00000" stroke-width="0.8"/>
<rect x="581.70" y="1166.30" width="7.8" height="7.8" fill="#ff0000" stroke="#b00000" stroke-width="0.8"/>
<rect x="629.70" y="1174.50" width="7.8" height="7.8" fill="#ff0000" stroke="#b00000" stroke-width="0.8"/>
<line x1="144.8" y1="150.3" x2="121.6" y2="150.3" stroke="#000" stroke-width="1.2"/>
<path d="M114.6,150.3 L124.6,147.3 L124.6,153.3 Z" fill="#000"/>
<text transform="translate(141.10,172.40) scale(1.035,1)" font-size="18.8" font-family="Liberation Sans, sans-serif" text-anchor="start">fw=15k</text>
<line x1="344.4" y1="571.7" x2="344.4" y2="622" stroke="#000" stroke-width="1.2"/>
<path d="M344.4,630.5 L341.4,619.5 L347.4,619.5 Z" fill="#000"/>
<rect x="219" y="570.5" width="88" height="20" fill="#fff"/>
<text transform="translate(221.40,586.60) scale(1.035,1)" font-size="18.8" font-family="Liberation Sans, sans-serif" text-anchor="start">Gain=120</text>
<rect x="477.3" y="1013.3" width="162.7" height="24.8" fill="#fff" stroke="#888" stroke-width="1"/>
<line x1="488.8" y1="1026.7" x2="502.5" y2="1026.7" stroke="#c05050" stroke-width="1"/>
<line x1="517.5" y1="1026.7" x2="531.5" y2="1026.7" stroke="#c05050" stroke-width="1"/>
<rect x="505.7" y="1022.3" width="8.8" height="8.8" fill="#ff0000" stroke="#aa0000" stroke-width="0.8"/>
<text transform="translate(538.20,1032.60) scale(1.035,1)" font-size="18.8" font-family="Liberation Sans, sans-serif" text-anchor="start">ReadNoise</text>
</svg>
</body></html>
